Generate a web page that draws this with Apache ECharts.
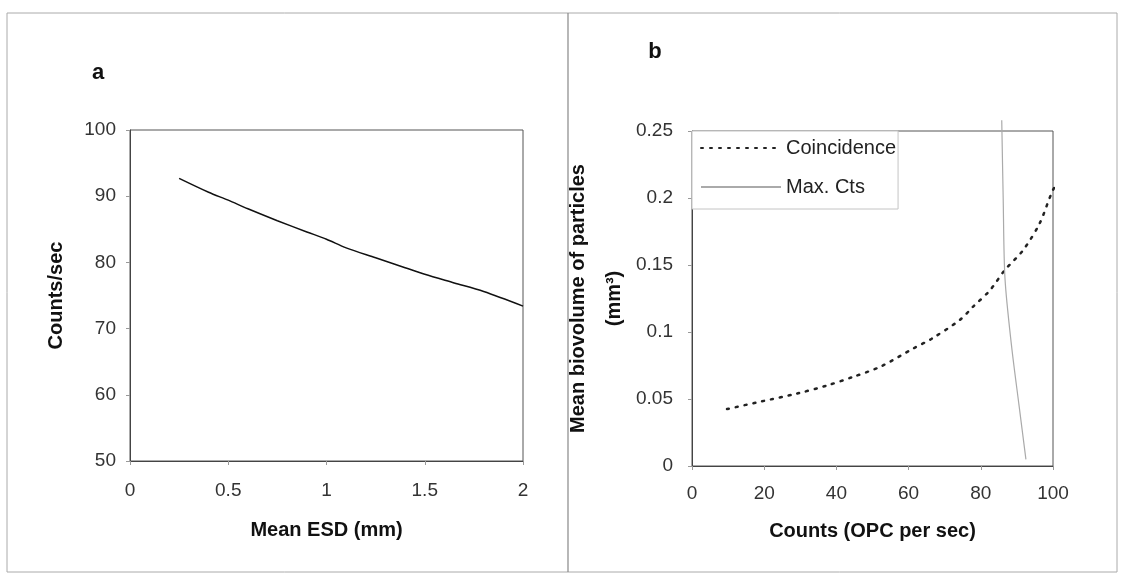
<!DOCTYPE html>
<html>
<head>
<meta charset="utf-8">
<script src="https://cdn.jsdelivr.net/npm/echarts@6/dist/echarts.min.js"></script>
<style>
  html, body { margin: 0; padding: 0; background: #fff; }
  #chart { width: 1122px; height: 577px; }
</style>
</head>
<body>
<div id="chart"></div>
<script>
// panel a: counts vs mean ESD
const esdMm = [0.25, 0.4, 0.5, 0.6, 0.75, 0.9, 1.0, 1.1, 1.25, 1.4, 1.5, 1.65, 1.8, 2.0]
const countsPerSec = [92.7, 90.6, 89.4, 88.1, 86.3, 84.6, 83.5, 82.2, 80.7, 79.2, 78.2, 76.9, 75.6, 73.4]

// panel b: coincidence curve and max counts line
const coincCounts = [9.7, 18.9, 29, 37.3, 44.7, 52.1, 61.3, 66.4, 74.2, 77.9, 82.5, 86.6, 91.7, 96.3, 100, 102.3]
const coincBiovol = [0.0425, 0.048, 0.054, 0.06, 0.0666, 0.074, 0.0877, 0.095, 0.109, 0.119, 0.131, 0.146, 0.161, 0.181, 0.206, 0.2145]
const maxCounts = [85.8, 86.2, 86.7, 88.5, 90.6, 92.5]
const maxBiovol = [0.258, 0.2, 0.14, 0.09, 0.045, 0.005]

const FONT = '"Liberation Sans", Arial, sans-serif'
const pair = (xs, ys) => xs.map((x, i) => [x, ys[i]])

const axisLine = { lineStyle: { color: '#444', width: 1 } }
const tick = { show: true, length: 4, lineStyle: { color: '#999' } }
const label = (margin) => ({ color: '#333', fontSize: 19, fontFamily: FONT, margin })
const nameStyle = (lh) => ({ color: '#111', fontSize: 20, fontWeight: 'bold', fontFamily: FONT, lineHeight: lh })

const chart = echarts.init(document.getElementById('chart'))
chart.setOption({
  animation: false,
  backgroundColor: '#fff',
  grid: [
    { left: 130, top: 130, width: 393, height: 331, show: true, borderColor: '#555', borderWidth: 1 },
    { left: 692, top: 131, width: 361, height: 335, show: true, borderColor: '#555', borderWidth: 1 },
  ],
  xAxis: [
    {
      gridIndex: 0, type: 'value', min: 0, max: 2, interval: 0.5,
      name: 'Mean ESD (mm)', nameLocation: 'middle', nameGap: 57, nameTextStyle: nameStyle(24),
      axisLine, axisTick: tick, axisLabel: label(20), splitLine: { show: false },
    },
    {
      gridIndex: 1, type: 'value', min: 0, max: 100, interval: 20,
      name: 'Counts (OPC per sec)', nameLocation: 'middle', nameGap: 53, nameTextStyle: nameStyle(24),
      axisLine, axisTick: tick, axisLabel: label(18), splitLine: { show: false },
    },
  ],
  yAxis: [
    {
      gridIndex: 0, type: 'value', min: 50, max: 100, interval: 10,
      name: 'Counts/sec', nameLocation: 'middle', nameGap: 62, nameTextStyle: nameStyle(24),
      axisLine, axisTick: tick, axisLabel: label(14), splitLine: { show: false },
    },
    {
      gridIndex: 1, type: 'value', min: 0, max: 0.25, interval: 0.05,
      name: 'Mean biovolume of particles\n(mm³)', nameLocation: 'middle', nameGap: 37,
      nameTextStyle: nameStyle(36),
      axisLine, axisTick: tick, axisLabel: label(19), splitLine: { show: false },
    },
  ],
  legend: {
    orient: 'vertical', left: 692, top: 131,
    data: ['Coincidence', 'Max. Cts'],
    itemWidth: 80, itemHeight: 14, itemGap: 19,
    padding: [7, 2, 12, 8],
    borderColor: '#c4c4c4', borderWidth: 1,
    backgroundColor: '#fff',
    itemStyle: { opacity: 0 },
    textStyle: { color: '#222', fontSize: 20, fontFamily: FONT },
  },
  graphic: [
    { type: 'rect', shape: { x: 7, y: 13, width: 1110, height: 559 }, style: { fill: 'none', stroke: '#aaa', lineWidth: 1 } },
    { type: 'line', shape: { x1: 568, y1: 13, x2: 568, y2: 572 }, style: { stroke: '#888', lineWidth: 1.2 } },
    { type: 'text', x: 98, y: 73, style: { text: 'a', font: 'bold 22px ' + FONT, fill: '#111', align: 'center', verticalAlign: 'middle' } },
    { type: 'text', x: 655, y: 52, style: { text: 'b', font: 'bold 22px ' + FONT, fill: '#111', align: 'center', verticalAlign: 'middle' } },
  ],
  series: [
    {
      type: 'line', xAxisIndex: 0, yAxisIndex: 0,
      data: pair(esdMm, countsPerSec), smooth: 0.3, symbol: 'none',
      lineStyle: { color: '#111', width: 1.5 },
    },
    {
      name: 'Coincidence', type: 'line', xAxisIndex: 1, yAxisIndex: 1,
      data: pair(coincCounts, coincBiovol), smooth: 0.3, symbol: 'none', clip: false,
      itemStyle: { color: '#222' },
      lineStyle: { color: '#222', width: 2.5, type: [2, 7], cap: 'round' },
    },
    {
      name: 'Max. Cts', type: 'line', xAxisIndex: 1, yAxisIndex: 1,
      data: pair(maxCounts, maxBiovol), smooth: 0.3, symbol: 'none', clip: false,
      itemStyle: { color: '#aaa' },
      lineStyle: { color: '#aaa', width: 1.2 },
    },
  ],
})
</script>
</body>
</html>
